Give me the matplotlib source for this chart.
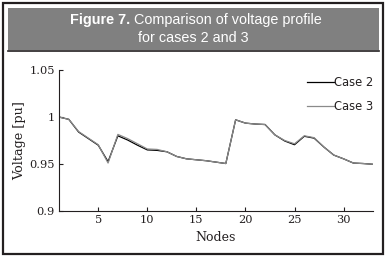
import matplotlib
matplotlib.use("Agg")
import matplotlib.pyplot as plt
from matplotlib.patches import Rectangle
from matplotlib.lines import Line2D

nodes = list(range(1, 34))
case2 = [1.0, 0.9975, 0.984, 0.977, 0.970, 0.9525, 0.980, 0.9755, 0.970, 0.965,
         0.9645, 0.963, 0.958, 0.9555, 0.9545, 0.9535, 0.952, 0.9505, 0.997, 0.9935,
         0.9925, 0.992, 0.981, 0.9745, 0.9705, 0.9795, 0.9775, 0.968, 0.9595, 0.9555,
         0.951, 0.9505, 0.9497]
case3 = [1.0, 0.9975, 0.9845, 0.9775, 0.9705, 0.951, 0.9815, 0.977, 0.9715, 0.966,
         0.9655, 0.963, 0.958, 0.9555, 0.9545, 0.9535, 0.952, 0.9505, 0.997, 0.9935,
         0.9925, 0.992, 0.981, 0.975, 0.9715, 0.980, 0.978, 0.968, 0.9595, 0.9555,
         0.951, 0.9505, 0.9497]
xticks = [5, 10, 15, 20, 25, 30]
yticks = [0.9, 0.95, 1.0, 1.05]
ytick_labels = ["0.9", "0.95", "1", "1.05"]
title_bold = "Figure 7."
title_rest = " Comparison of voltage profile"
title_line2 = "for cases 2 and 3"

W, H = 387, 259
fig = plt.figure(figsize=(W / 100, H / 100), dpi=100)
dark = "#231f20"

def fx(px):
    return px / W

def fy(py):
    return 1 - py / H

# outer border
fig.patches.append(Rectangle((fx(3), fy(254)), fx(380), (251) / H, transform=fig.transFigure,
                             fill=False, edgecolor=dark, linewidth=1.6))
# header band
fig.patches.append(Rectangle((fx(8), fy(50.5)), fx(371), 42.5 / H, transform=fig.transFigure,
                             facecolor="#808080", edgecolor="none"))
fig.add_artist(Line2D([fx(8), fx(379)], [fy(51), fy(51)], transform=fig.transFigure,
                      color=dark, linewidth=1.2))

tfont = dict(family="Liberation Sans", size=10.4, color="white")
t1 = fig.text(0, fy(20), title_bold, fontweight="bold", va="center", ha="left", **tfont)
t2 = fig.text(0, fy(20), title_rest, va="center", ha="left", **tfont)
fig.text(fx(193.5), fy(38), title_line2, va="center", ha="center", **tfont)
fig.canvas.draw()
r = fig.canvas.get_renderer()
w1 = t1.get_window_extent(r).width
w2 = t2.get_window_extent(r).width
x0 = 196 - (w1 + w2) / 2
t1.set_x(fx(x0))
t2.set_x(fx(x0 + w1))

ax = fig.add_axes([fx(59), fy(211), fx(373 - 59), (211 - 70) / H])
ax.plot(nodes, case2, color="black", linewidth=0.9, label="Case 2")
ax.plot(nodes, case3, color="#8a8a8a", linewidth=0.9, label="Case 3")
ax.set_xlim(1, 33)
ax.set_ylim(0.9, 1.05)
ax.set_xticks(xticks)
ax.set_yticks(yticks)
ax.set_yticklabels(ytick_labels)
for s in ["top", "right"]:
    ax.spines[s].set_visible(False)
for s in ["left", "bottom"]:
    ax.spines[s].set_color(dark)
    ax.spines[s].set_linewidth(0.8)
ax.tick_params(direction="in", length=3, width=0.8, colors=dark, labelsize=8.2, pad=3)
for lab in ax.get_xticklabels() + ax.get_yticklabels():
    lab.set_family("DejaVu Serif")
ax.set_xlabel("Nodes", family="DejaVu Serif", fontsize=9, color=dark, labelpad=4)
ax.set_ylabel("Voltage [pu]", family="DejaVu Serif", fontsize=9.2, color=dark, labelpad=2)
leg = ax.legend(loc="upper right", bbox_to_anchor=(1.0, 0.96), frameon=False,
                prop=dict(family="DejaVu Sans", size=8.3), handlelength=2.3,
                handletextpad=0.0, labelspacing=0.95, borderaxespad=0.0, borderpad=0.0)
for t in leg.get_texts():
    t.set_color(dark)

fig.savefig("out.png", dpi=100)
